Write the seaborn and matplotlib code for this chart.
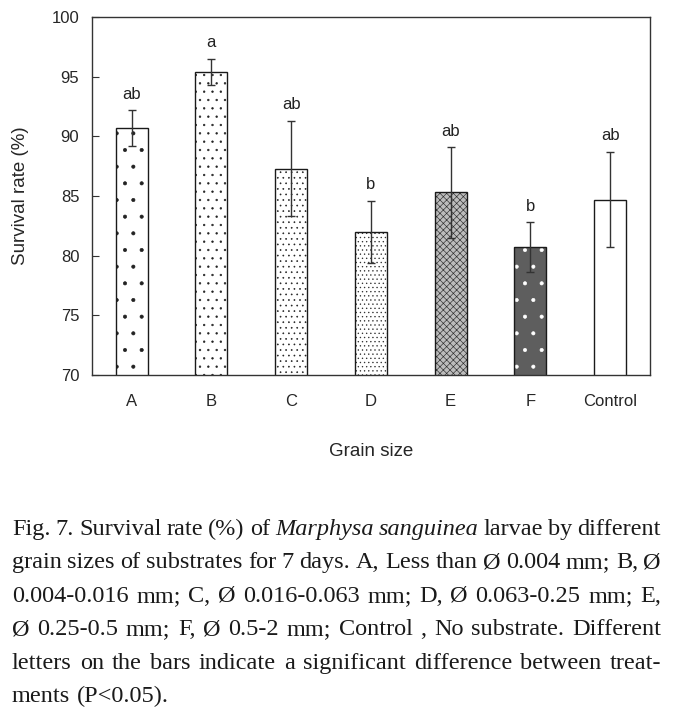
import matplotlib
matplotlib.use('Agg')
import matplotlib.pyplot as plt
import seaborn as sns
import pandas as pd

categories = ['A', 'B', 'C', 'D', 'E', 'F', 'Control']
survival = [90.7, 95.4, 87.3, 82.0, 85.3, 80.7, 84.7]
errors = [1.5, 1.1, 4.0, 2.6, 3.8, 2.1, 4.0]
letters = ['ab', 'a', 'ab', 'b', 'ab', 'b', 'ab']

hatches = ['.', '..', '...', '....', 'xxxxx', '.', '']
face_colors = ['white', 'white', 'white', 'white', '#bcbcbc', '#5e5e5e', 'white']
hatch_colors = ['#222222', '#222222', '#222222', '#333333', '#2e2e2e', 'white', '#222222']

caption = [
    [('Fig. 7. Survival rate (%) of', 'normal'), ('Marphysa sanguinea', 'italic'),
     ('larvae by different', 'normal')],
    [('grain sizes of substrates for 7 days. A, Less than Ø 0.004 mm; B, Ø', 'normal')],
    [('0.004-0.016 mm; C, Ø 0.016-0.063 mm; D, Ø 0.063-0.25 mm; E,', 'normal')],
    [('Ø 0.25-0.5 mm; F, Ø 0.5-2 mm; Control , No substrate. Different', 'normal')],
    [('letters on the bars indicate a significant difference between treat-', 'normal')],
    [('ments (P<0.05).', 'normal')],
]

df = pd.DataFrame({'size': categories, 'rate': survival})

sns.set_style('ticks')
plt.rcParams['font.family'] = ['Liberation Sans', 'DejaVu Sans']
plt.rcParams['hatch.linewidth'] = 0.45

fig = plt.figure(figsize=(6.75, 7.1), dpi=100)
ax = fig.add_axes([0.136, 0.472, 0.827, 0.504])

# hatched fill layer, then a black outline layer on top
sns.barplot(data=df, x='size', y='rate', hue='size', palette=face_colors,
            width=0.4, linewidth=0, legend=False, ax=ax)
for patch, h, hc in zip(ax.patches, hatches, hatch_colors):
    patch.set_hatch(h)
    patch.set_edgecolor(hc)
    patch.set_linewidth(0)
sns.barplot(data=df, x='size', y='rate', width=0.4, fill=False,
            color='#1a1a1a', linewidth=1.0, ax=ax)

centers = [p.get_x() + p.get_width() / 2 for p in ax.patches[:len(categories)]]
ax.errorbar(centers, survival, yerr=errors, fmt='none', ecolor='#333333',
            elinewidth=1.0, capsize=3, capthick=1.0)
for x, y, e, lab in zip(centers, survival, errors, letters):
    ax.annotate(lab, (x, y + e), xytext=(0, 6), textcoords='offset points',
                ha='center', va='bottom', fontsize=12, color='#222222')

ax.set_ylim(70, 100)
ax.set_xlim(-0.5, len(categories) - 0.5)
ax.set_yticks(range(70, 101, 5))
ax.tick_params(axis='y', direction='in', length=5, labelsize=12, color='#333333', pad=9)
ax.tick_params(axis='x', length=0, labelsize=12, pad=14)
for s in ax.spines.values():
    s.set_visible(True)
    s.set_color('#333333')
    s.set_linewidth(1.0)
ax.set_ylabel('Survival rate (%)', fontsize=13.5, labelpad=16)
ax.set_xlabel('Grain size', fontsize=13.5, labelpad=24)

# justified caption
fig.canvas.draw()
renderer = fig.canvas.get_renderer()
x_left, x_right = 12, 661
base0, step = 535, 33.4
fs = 17.5
H = fig.bbox.height
W = fig.bbox.width
for i, segs in enumerate(caption):
    words = []
    for text, style in segs:
        for w in text.split(' '):
            words.append((w, style))
    objs = []
    for w, style in words:
        t = fig.text(0, 0, w, fontsize=fs, fontstyle=style, va='baseline', ha='left',
                     family=['Liberation Serif', 'DejaVu Serif'], color='#1a1a1a')
        objs.append(t)
    widths = [t.get_window_extent(renderer).width for t in objs]
    if i < len(caption) - 1:
        gap = (x_right - x_left - sum(widths)) / (len(objs) - 1)
    else:
        sp = fig.text(0, 0, 'a a', fontsize=fs, family=['Liberation Serif'])
        sa = fig.text(0, 0, 'aa', fontsize=fs, family=['Liberation Serif'])
        gap = sp.get_window_extent(renderer).width - sa.get_window_extent(renderer).width
        sp.remove()
        sa.remove()
    x = x_left
    yb = 1 - (base0 + i * step) / H
    for t, wd in zip(objs, widths):
        t.set_position((x / W, yb))
        x += wd + gap

fig.savefig('out.png', dpi=100)
